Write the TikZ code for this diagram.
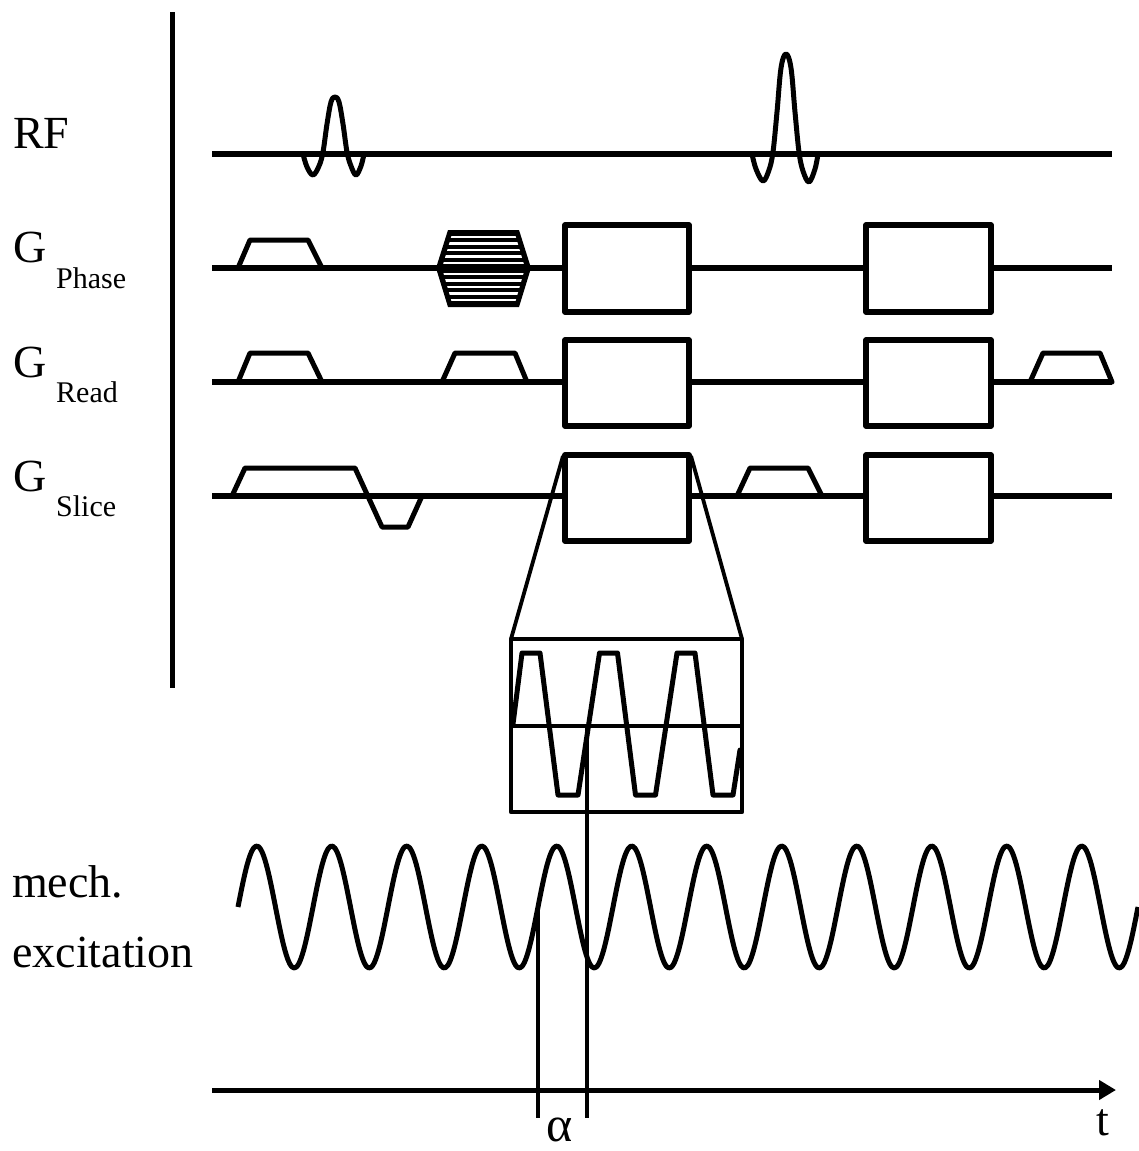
\documentclass[tikz,border=0pt]{standalone}
\usepackage{fontspec}
\setmainfont{Liberation Serif}
\usetikzlibrary{arrows.meta}
\begin{document}
\begin{tikzpicture}[x=1pt,y=-1pt,
  line join=round,
  wave/.style={line width=5pt, line cap=round},
  base/.style={line width=5.5pt},
  gbox/.style={line width=5.5pt, fill=white},
  thin/.style={line width=3.8pt},
  lab/.style={font=\fontsize{46}{50}\selectfont, inner sep=0pt, anchor=base west},
  sublab/.style={font=\fontsize{30}{33}\selectfont, inner sep=0pt, anchor=base west}]
\useasboundingbox (0,0) rectangle (1138,1151);

% labels
\node[lab] (rf) at (13,148) {RF};
\node[lab] (gp) at (13,262) {G};
\node[sublab] (gps) at (56,288) {Phase};
\node[lab] (gr) at (13,377) {G};
\node[sublab] (grs) at (56,402) {Read};
\node[lab] (gs) at (13,491) {G};
\node[sublab] (gss) at (56,516) {Slice};
\node[lab] (mech) at (12,897) {mech.};
\node[lab] (exc) at (12,967) {excitation};

% left vertical line
\coordinate (vt) at (172,12);
\coordinate (vb) at (172,688);
\draw[line width=5pt] (vt) -- (vb);

% RF line and pulses
\draw[base] (212,154) -- (1112,154);
\draw[wave] plot[smooth, tension=0.6] coordinates {(303,154) (307,167) (313,175) (319,166) (323,152) (327,124) (331,102) (335,97) (339,102) (343,124) (347,152) (351,166) (356,175) (361,166) (364,154)};
\draw[wave] plot[smooth, tension=0.6] coordinates {(752,154) (756,169) (763,181) (769,170) (773,152) (777,112) (781,68) (786,54) (791,68) (795,112) (799,152) (803,171) (809,182) (815,169) (818,154)};

% G phase
\draw[base] (212,268) -- (1112,268);
\draw[wave] (238,268) -- (250,240) -- (308,240) -- (322,268);
% hatched hexagon
\fill (436,268) -- (448,230) -- (519,230) -- (531,268) -- (519,307) -- (448,307) -- cycle;
\begin{scope}
\clip (442,268) -- (452,234) -- (515,234) -- (525,268) -- (515,303) -- (452,303) -- cycle;
\foreach \yy in {237,243.5,250,256.5,263,274,280.5,287,293.5,300}
  \draw[white, line width=2.6pt] (430,\yy) -- (540,\yy);
\end{scope}
\draw[gbox] (565,225) rectangle (689,312);
\draw[gbox] (866,225) rectangle (991,312);

% G read
\draw[base] (212,382) -- (1112,382);
\draw[wave] (238,382) -- (250,353) -- (308,353) -- (322,382);
\draw[wave] (442,382) -- (455,353) -- (515,353) -- (527,382);
\draw[wave] (1030,382) -- (1043,353) -- (1100,353) -- (1112,382);
\draw[gbox] (565,340) rectangle (689,426);
\draw[gbox] (866,340) rectangle (991,426);

% G slice
\draw[base] (212,496) -- (1112,496);
\draw[wave] (232,496) -- (245,468) -- (355,468) -- (382,527) -- (408,527) -- (422,496);
\draw[wave] (737,496) -- (750,468) -- (808,468) -- (822,496);
\draw[gbox] (565,455) rectangle (689,541);
\draw[gbox] (866,455) rectangle (991,541);

% zoom box
\coordinate (zl) at (511,639);
\coordinate (zr) at (742,639);
\draw[thin] (563,456) -- (zl);
\draw[thin] (691,456) -- (zr);
\draw[line width=4.5pt] (511,639) rectangle (742,812);
\draw[thin] (511,726) -- (742,726);
\draw[wave] (513,724) -- (522,653) -- (540,653) -- (558,795) -- (578,795) -- (599.5,653) -- (617.5,653) -- (635.5,795) -- (655.5,795) -- (677,653) -- (695,653) -- (713,795) -- (733,795) -- (740,750);

% mechanical excitation
\draw[wave, line cap=butt] plot[domain=238:1138, samples=400, smooth] (\x,{907-61*sin(4.8*(\x-238))});

% alpha markers
\coordinate (a1t) at (538,907);
\coordinate (a1b) at (538,1118);
\coordinate (a2t) at (587,726);
\coordinate (a2b) at (587,1118);
\draw[thin] (a1t) -- (a1b);
\draw[thin] (a2t) -- (a2b);

% time axis
\coordinate (ts) at (212,1090);
\coordinate (te) at (1116,1090);
\draw[line width=5pt, -{Triangle[length=17pt, width=19pt]}] (ts) -- (te);
\node[lab] (tl) at (1096,1135) {t};
\node[lab, font=\fontsize{50}{54}\selectfont] (al) at (546,1141) {α};
\end{tikzpicture}
\end{document}
